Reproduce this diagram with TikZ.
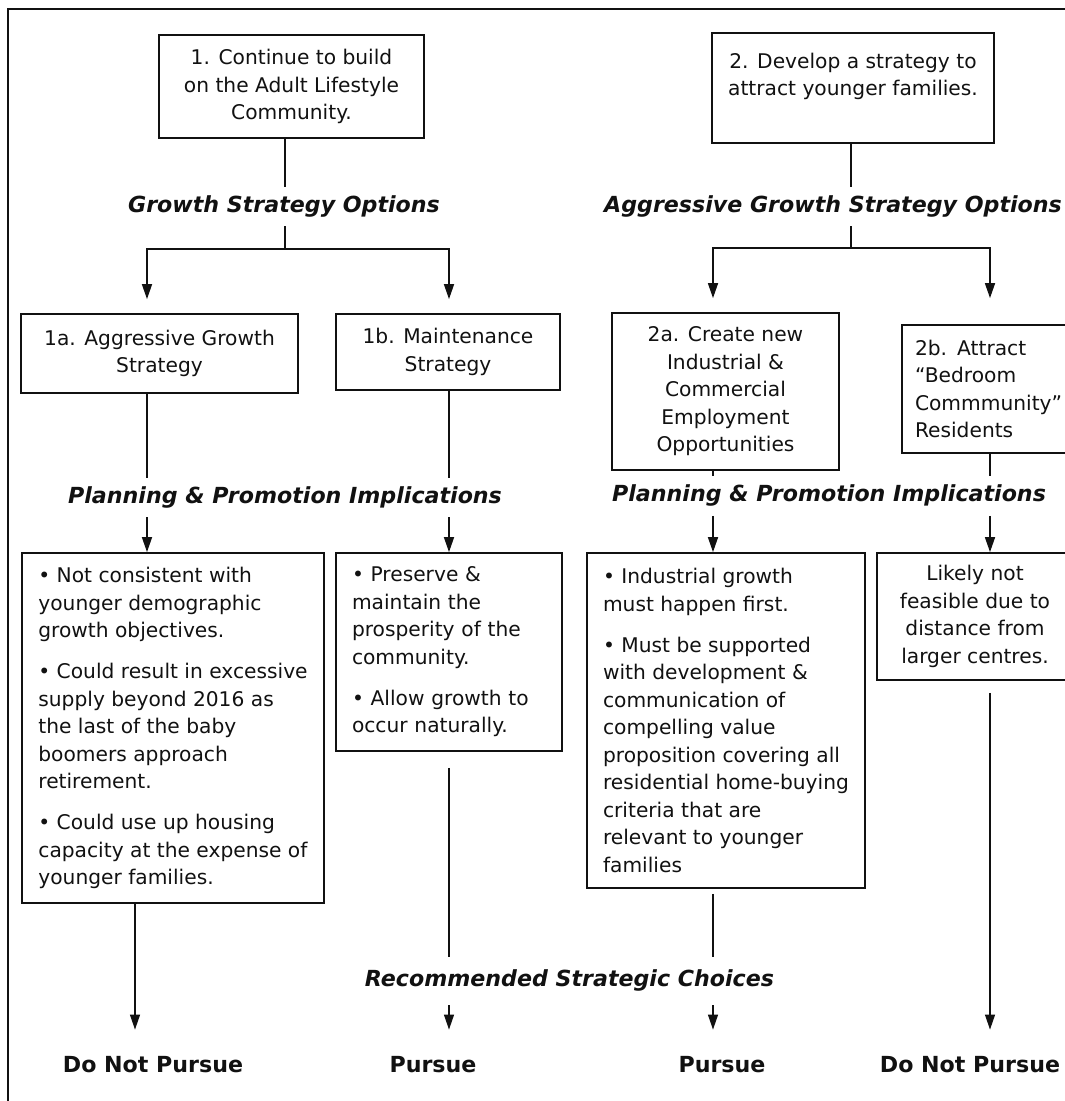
\documentclass[tikz,border=0pt]{standalone}
\usepackage{fontspec}
\setmainfont{DejaVu Sans}[BoldItalicFont={DejaVu Sans Bold Oblique},ItalicFont={DejaVu Sans Oblique}]
\usetikzlibrary{arrows.meta}
\definecolor{ink}{HTML}{111111}
\newcommand{\eleven}{\fontsize{11.5}{15.65}\selectfont}
\newcommand{\twelve}{\fontsize{12.6}{15}\selectfont}
\tikzset{
 every node/.append style={font=\eleven,text=ink,align=center},
 box/.style={draw=ink,line width=1pt,inner sep=0pt},
 note/.style={box,align=left,inner xsep=.32cm},
 head/.style={font=\twelve\bfseries\itshape,text height=9.6pt,text depth=3pt,inner xsep=0pt,inner ysep=.17cm},
 pick/.style={font=\twelve\bfseries,text height=9.6pt,text depth=3pt,inner xsep=0pt,inner ysep=.52cm},
 route/.style={draw=ink,line width=.9pt},
 flow/.style={route,-{Triangle[length=3mm,width=2mm]}},
 drop/.style={flow,line width=.7pt},
 frame/.style={draw=ink,line width=1pt},
}

\begin{document}
\begin{tikzpicture}

\useasboundingbox (0,0) rectangle (21.3,-22.02);
\draw[frame] (21.6,-.18) -- (.16,-.18) -- (.16,-22.3);
\coordinate (colA) at (2.94,0); \coordinate (colB) at (8.98,0);
\coordinate (colC) at (14.26,0); \coordinate (colD) at (19.8,0);
\coordinate (colE) at (2.7,0);
% top level choices
\node[box,minimum width=5.3cm,minimum height=2.06cm] (first) at (5.83,-1.73) {1. Continue to build\\on the Adult Lifestyle\\Community.};
\node[box,minimum width=5.64cm,minimum height=2.2cm] (second) at (17.06,-1.76) {2. Develop a strategy to\\attract younger families.\\\mbox{}};
\node[head] (growth) at (5.68,-4.13) {Growth Strategy Options};
\node[head] (aggr) at (16.66,-4.13) {Aggressive Growth Strategy Options};
\coordinate (fork1) at (5.7,-4.98); \coordinate (fork2) at (17.02,-4.96);
% strategy options
\node[box,minimum width=5.54cm,minimum height=1.58cm] (opt1a) at (3.19,-7.07) {1a. Aggressive Growth\\Strategy};
\node[box,minimum width=4.48cm,minimum height=1.52cm] (opt1b) at (8.96,-7.04) {1b. Maintenance\\Strategy};
\node[box,minimum width=4.54cm,minimum height=3.14cm] (opt2a) at (14.51,-7.83) {2a. Create new\\Industrial \&\\Commercial\\Employment\\Opportunities};
\node[note,text width=3.2cm,inner xsep=.26cm,minimum height=2.56cm] (opt2b) at (19.9,-7.78) {2b. Attract\\“Bedroom\\Commmunity”\\Residents};
\draw[route] (first.south -| fork1) -- (growth.north -| fork1); \draw[route] (growth.south -| fork1) -- (fork1);
\draw[route] (second.south -| fork2) -- (aggr.north -| fork2); \draw[route] (aggr.south -| fork2) -- (fork2);
\draw[flow,shorten >=.28cm] (fork1) -| (colA |- opt1a.north); \draw[flow,shorten >=.28cm] (fork1) -| (colB |- opt1b.north);
\draw[flow,shorten >=.28cm] (fork2) -| (colC |- opt2a.north); \draw[flow,shorten >=.28cm] (fork2) -| (colD |- opt2a.north);
% implications
\node[head] (plan1) at (5.7,-9.95) {Planning \& Promotion Implications};
\node[head] (plan2) at (16.58,-9.92) {Planning \& Promotion Implications};
\node[note,minimum width=6.04cm,minimum height=7cm] (imp1a) at (3.46,-14.56) {\textbullet{} Not consistent with\\younger demographic\\growth objectives.\\[7.7pt]\textbullet{} Could result in excessive\\supply beyond 2016 as\\the last of the baby\\boomers approach\\retirement.\\[7.7pt]\textbullet{} Could use up housing\\capacity at the expense of\\younger families.};
\node[note,text width=3.88cm,minimum height=3.96cm] (imp1b) at (8.98,-13.04) {\textbullet{} Preserve \&\\maintain the\\prosperity of the\\community.\\[7.7pt]\textbullet{} Allow growth to\\occur naturally.};
\node[note,minimum width=5.52cm,minimum height=6.7cm] (imp2a) at (14.52,-14.41) {\textbullet{} Industrial growth\\must happen first.\\[7.7pt]\textbullet{} Must be supported\\with development \&\\communication of\\compelling value\\proposition covering all\\residential home-buying\\criteria that are\\relevant to younger\\families};
\node[box,minimum width=3.92cm,minimum height=2.54cm] (imp2b) at (19.5,-12.33) {Likely not\\feasible due to\\distance from\\larger centres.};
\draw[route] (colA |- opt1a.south) -- (colA |- plan1.north); \draw[flow] (colA |- plan1.south) -- (colA |- imp1a.north);
\draw[route] (colB |- opt1b.south) -- (colB |- plan1.north); \draw[flow] (colB |- plan1.south) -- (colB |- imp1b.north);
\draw[route] (colC |- opt2a.south) -- (colC |- plan2.north); \draw[flow] (colC |- plan2.south) -- (colC |- imp2a.north);
\draw[route] (colD |- opt2b.south) -- (colD |- plan2.north); \draw[flow] (colD |- plan2.south) -- (colD |- imp2b.north);
% recommendations
\node[head,inner ysep=.26cm] (choice) at (11.39,-19.62) {Recommended Strategic Choices};
\node[pick] (res1) at (3.06,-21.34) {Do Not Pursue};
\node[pick] (res2) at (8.66,-21.34) {Pursue};
\node[pick] (res3) at (14.44,-21.34) {Pursue};
\node[pick] (res4) at (19.4,-21.34) {Do Not Pursue};
\draw[drop] (colE |- imp1a.south) -- (colE |- res1.north);
\draw[route,line width=.7pt,shorten <=.32cm] (colB |- imp1b.south) -- (colB |- choice.north); \draw[drop] (colB |- choice.south) -- (colB |- res2.north);
\draw[route,line width=.7pt,shorten <=.1cm] (colC |- imp2a.south) -- (colC |- choice.north); \draw[drop] (colC |- choice.south) -- (colC |- res3.north);
\draw[drop,shorten <=.24cm] (colD |- imp2b.south) -- (colD |- res4.north);
\end{tikzpicture}
\end{document}
